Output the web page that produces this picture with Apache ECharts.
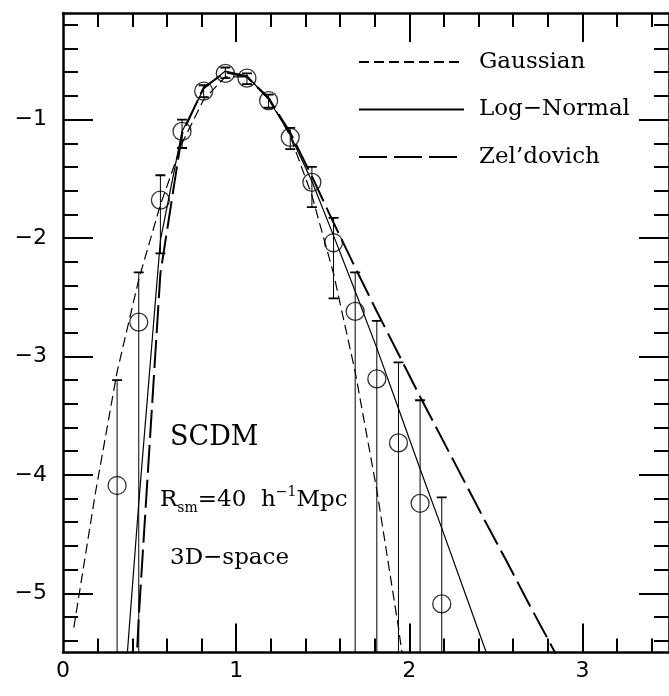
<!DOCTYPE html>
<html>
<head>
<meta charset="utf-8">
<script src="https://cdn.jsdelivr.net/npm/echarts@6/dist/echarts.min.js"></script>
<style>
html,body{margin:0;padding:0;background:#fff;}
#chart{width:669px;height:696px;}
</style>
</head>
<body>
<div id="chart"></div>
<script>
// ---- data ----
var binX = [0.3125,0.4375,0.5625,0.6875,0.8125,0.9375,1.0625,1.1875,1.3125,1.4375,1.5625,1.6875,1.8125,1.9375,2.0625,2.1875];
var binY = [-4.09,-2.71,-1.68,-1.10,-0.76,-0.61,-0.65,-0.84,-1.15,-1.53,-2.04,-2.62,-3.19,-3.73,-4.24,-5.09];
var errHigh = [-3.20,-2.29,-1.47,-1.00,-0.71,-0.56,-0.61,-0.79,-1.07,-1.40,-1.83,-2.29,-2.70,-3.05,-3.37,-4.19];
var errLow  = [-7.00,-7.00,-2.13,-1.24,-0.81,-0.65,-0.70,-0.90,-1.25,-1.74,-2.51,-7.00,-7.00,-7.00,-7.00,-7.00];

var curveX = [0.0625,0.1875,0.3125,0.4375,0.5625,0.6875,0.8125,0.9375,1.0625,1.1875,1.3125,1.4375,1.5625,1.6875,1.8125,1.9375,2.0625,2.1875,2.3125,2.4375,2.5625,2.6875,2.8125,2.9375];
var gaussY   = [-5.29,-4.15,-3.13,-2.35,-1.72,-1.20,-0.83,-0.64,-0.64,-0.81,-1.14,-1.64,-2.30,-3.13,-4.13,-5.29,-6.61,null,null,null,null,null,null,null];
var logNormY = [null,null,-6.64,-4.24,-2.02,-1.10,-0.74,-0.59,-0.63,-0.83,-1.13,-1.52,-1.98,-2.45,-2.93,-3.44,-3.95,-4.45,-4.96,-5.47,-5.98,null,null,null];
var zelY     = [null,null,-9.00,-5.20,-2.30,-1.12,-0.73,-0.60,-0.64,-0.82,-1.11,-1.48,-1.87,-2.25,-2.62,-2.98,-3.34,-3.69,-4.04,-4.39,-4.73,-5.08,-5.42,-5.76];

var seriesNames = ['Gaussian','Log\u2212Normal','Zel\u2019dovich'];

var xTickLabels = [0,1,2,3];
var xMajorTicks = [1,2,3];
var xMinorTicks = [0.2,0.4,0.6,0.8,1.2,1.4,1.6,1.8,2.2,2.4,2.6,2.8,3.2,3.4];
var yTickLabels = [-5,-4,-3,-2,-1];
var yMajorTicks = [-5,-4,-3,-2,-1];
var yMinorTicks = [-5.4,-5.2,-4.8,-4.6,-4.4,-4.2,-3.8,-3.6,-3.4,-3.2,-2.8,-2.6,-2.4,-2.2,-1.8,-1.6,-1.4,-1.2,-0.8,-0.6,-0.4,-0.2];

var xMin = 0, xMax = 3.5, yMin = -5.5, yMax = -0.1;

// ---- helpers ----
function zip(xs, ys){ var o=[]; for(var i=0;i<xs.length;i++){ o.push([xs[i], ys[i]===null?'-':ys[i]]); } return o; }
var errData = []; for (var i=0;i<binX.length;i++){ errData.push([binX[i], errLow[i], errHigh[i]]); }

var tickFont = {color:'#000', fontFamily:'DejaVu Sans', fontSize:22};
function fmt(v){ return v<0 ? '\u2212'+Math.abs(v) : String(v); }

function xAxisDef(pos, ticks, len, labels, line){
  return {type:'value', position:pos, min:xMin, max:xMax, gridIndex:0,
    axisLine:{show:line, onZero:false, lineStyle:{color:'#000', width:2.5}},
    axisTick:{show:true, inside:true, length:len, customValues:ticks, lineStyle:{color:'#000', width:2}},
    axisLabel: labels ? Object.assign({show:true, margin:8, customValues:labels, formatter:fmt}, tickFont) : {show:false},
    splitLine:{show:false}, minorTick:{show:false}};
}
function yAxisDef(pos, ticks, len, labels, line){
  return {type:'value', position:pos, min:yMin, max:yMax, gridIndex:0,
    axisLine:{show:line, onZero:false, lineStyle:{color:'#000', width:2.5}},
    axisTick:{show:true, inside:true, length:len, customValues:ticks, lineStyle:{color:'#000', width:2}},
    axisLabel: labels ? Object.assign({show:true, margin:16, customValues:labels, formatter:fmt}, tickFont) : {show:false},
    splitLine:{show:false}, minorTick:{show:false}};
}

var chart = echarts.init(document.getElementById('chart'), null, {renderer:'canvas'});
var serif = 'DejaVu Serif';
var option = {
  animation:false,
  backgroundColor:'#fff',
  color:['#000','#000','#000','#000','#000'],
  grid:{left:63, top:13, width:609, height:639.5, containLabel:false},
  xAxis:[
    xAxisDef('bottom', xMajorTicks, 29, xTickLabels, true),
    xAxisDef('bottom', xMinorTicks, 14, null, false),
    xAxisDef('top', xMajorTicks, 29, null, true),
    xAxisDef('top', xMinorTicks, 14, null, false)
  ],
  yAxis:[
    yAxisDef('left', yMajorTicks, 30, yTickLabels, true),
    yAxisDef('left', yMinorTicks, 15, null, false),
    yAxisDef('right', yMajorTicks, 30, null, true),
    yAxisDef('right', yMinorTicks, 15, null, false)
  ],
  legend:{
    data:seriesNames, orient:'vertical', left:358, top:50.5, padding:0,
    itemWidth:105, itemHeight:14, itemGap:24.5,
    itemStyle:{opacity:0},
    textStyle:{color:'#000', fontFamily:serif, fontSize:23, padding:[0,0,0,10]},
    selectedMode:false
  },
  series:[
    {name:seriesNames[0], type:'line', data:zip(curveX,gaussY), symbol:'none', clip:true, silent:true,
     lineStyle:{color:'#000', width:1.2, type:[10,5]}, z:3},
    {name:seriesNames[1], type:'line', data:zip(curveX,logNormY), symbol:'none', clip:true, silent:true,
     lineStyle:{color:'#000', width:1.2, type:'solid'}, z:3},
    {name:seriesNames[2], type:'line', data:zip(curveX,zelY), symbol:'none', clip:true, silent:true,
     lineStyle:{color:'#000', width:2, type:[28,7]}, z:3},
    {name:'err', type:'custom', data:errData, clip:true, silent:true, z:4,
     renderItem:function(params, api){
       var x = api.value(0), lo = api.value(1), hi = api.value(2);
       var pHi = api.coord([x, hi]), pLo = api.coord([x, lo]);
       var cw = 5;
       return {type:'group', children:[
         {type:'line', shape:{x1:pHi[0], y1:pHi[1], x2:pLo[0], y2:pLo[1]}, style:{stroke:'#000', lineWidth:1}},
         {type:'line', shape:{x1:pHi[0]-cw, y1:pHi[1], x2:pHi[0]+cw, y2:pHi[1]}, style:{stroke:'#000', lineWidth:1.8}},
         {type:'line', shape:{x1:pLo[0]-cw, y1:pLo[1], x2:pLo[0]+cw, y2:pLo[1]}, style:{stroke:'#000', lineWidth:1.8}}
       ]};
     },
     encode:{x:0, y:[1,2]}},
    {name:'data', type:'scatter', data:zip(binX,binY), symbol:'circle', symbolSize:18, silent:true, z:5,
     itemStyle:{color:'rgba(0,0,0,0)', borderColor:'#000', borderWidth:1.3}}
  ],
  graphic:[
    {type:'text', x:170, y:438, style:{text:'SCDM', fontFamily:serif, fontSize:27, fill:'#000', verticalAlign:'middle'}},
    {type:'text', x:160, y:500, style:{
      text:'{a|R}{s|sm}{a|=40  h}{p|\u22121}{a|Mpc}', verticalAlign:'middle',
      rich:{
        a:{fontFamily:serif, fontSize:23, fill:'#000', lineHeight:30, verticalAlign:'middle'},
        s:{fontFamily:serif, fontSize:14, fill:'#000', lineHeight:14, verticalAlign:'bottom'},
        p:{fontFamily:serif, fontSize:14, fill:'#000', lineHeight:14, verticalAlign:'top'}
      }}},
    {type:'text', x:170, y:558, style:{text:'3D\u2212space', fontFamily:serif, fontSize:23, fill:'#000', verticalAlign:'middle'}}
  ]
};
chart.setOption(option);
</script>
</body>
</html>
